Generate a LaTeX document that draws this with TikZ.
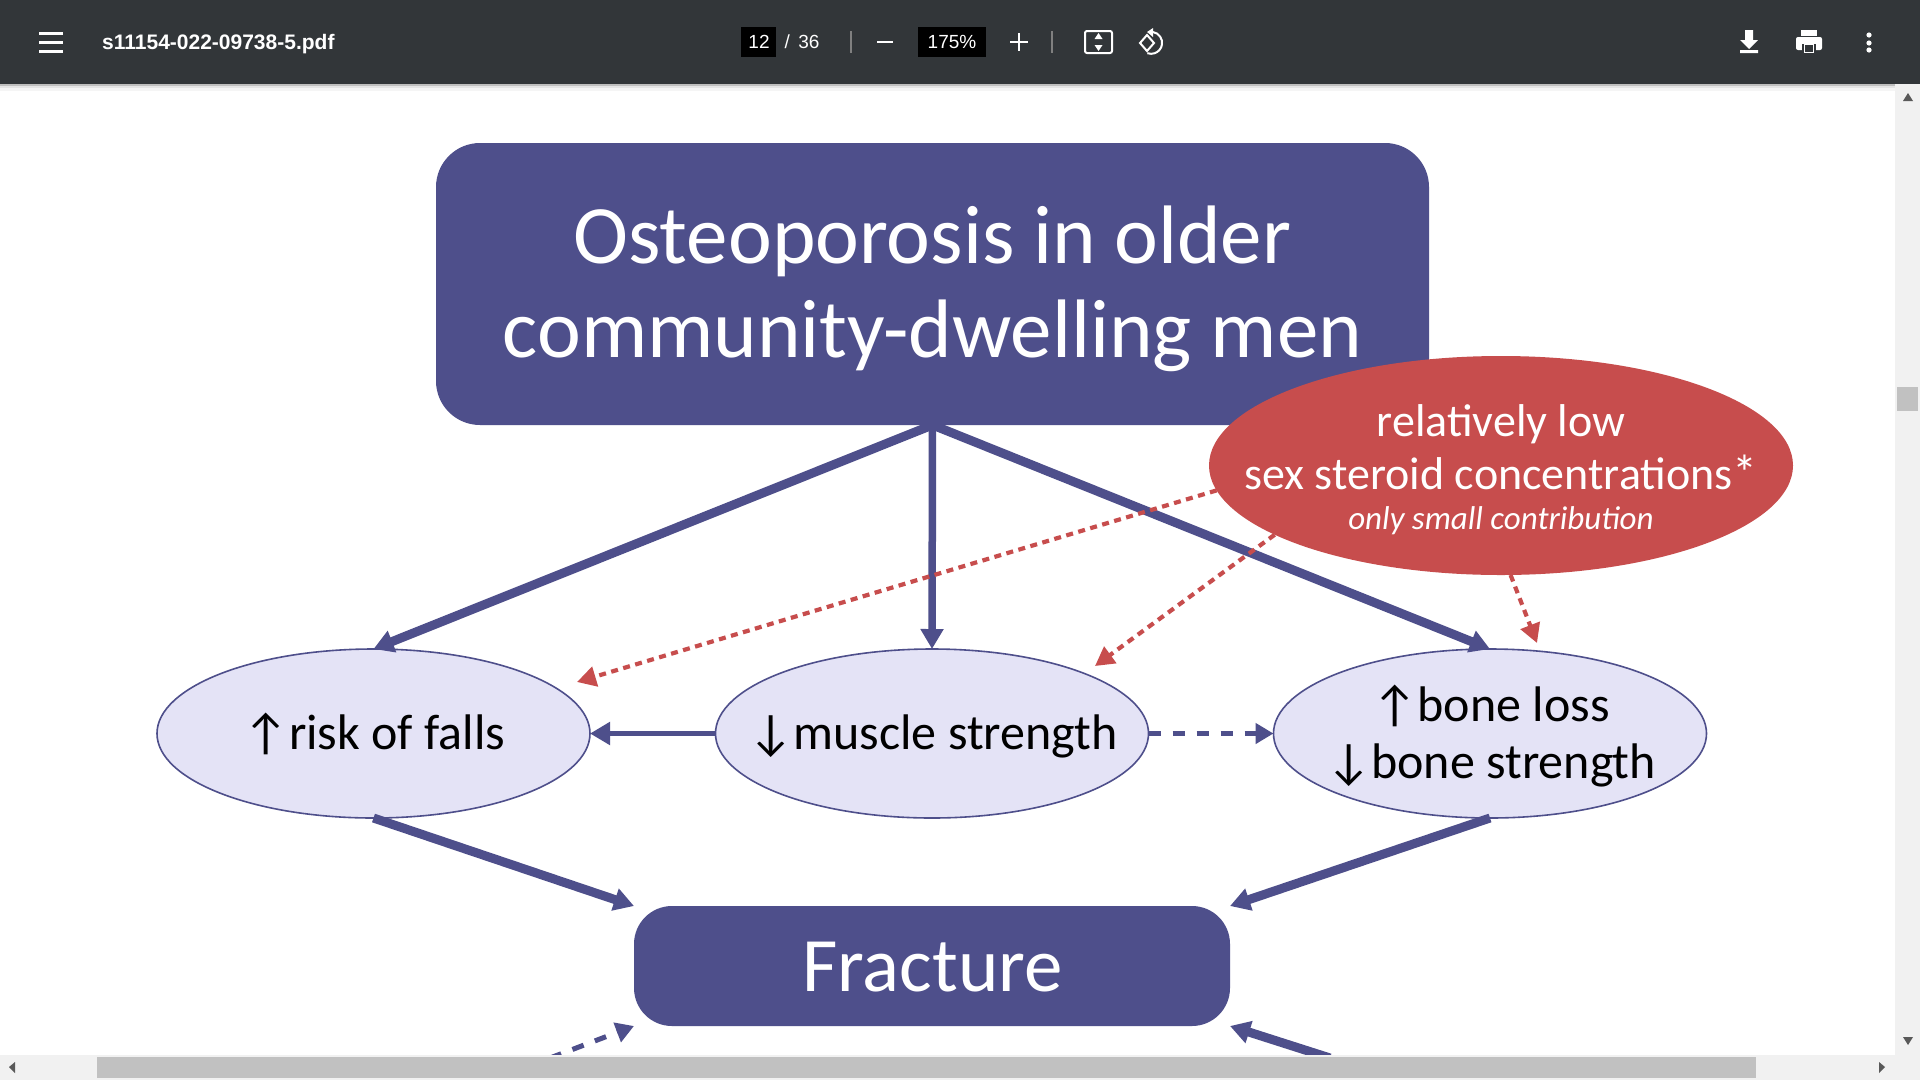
\documentclass[tikz,border=0pt]{standalone}
\usepackage{fontspec}
\usetikzlibrary{shapes.geometric,arrows.meta,calc}
\setmainfont{Carlito}
\newfontfamily\uifont{Liberation Sans}
\definecolor{barcol}{HTML}{323639}
\definecolor{navy}{HTML}{4E4F8B}
\definecolor{pale}{HTML}{E4E3F6}
\definecolor{redfill}{HTML}{C74D4D}
\definecolor{trackcol}{HTML}{F1F1F1}
\definecolor{thumbcol}{HTML}{C1C1C1}
\newcommand\ctext[2][0pt]{\smash{\makebox[0pt][c]{\raisebox{#1}{\begin{tabular}{@{}c@{}}#2\end{tabular}}}}}
\newcommand\fs[2]{\fontsize{#1}{#2}\selectfont}
\tikzset{
  x=1pt,y=-1pt,
  bigbox/.style={draw=none,fill=navy,inner sep=0pt,outer sep=0pt,text=white,anchor=center},
  oval/.style={ellipse,draw=navy,line width=1.6pt,fill=pale,inner sep=0pt,outer sep=0pt,minimum width=433pt,minimum height=169pt,text=black},
  solidarrow/.style={draw=navy,line width=#1,-{Triangle[length=20pt,width=22pt,fill=navy]}},
  solidarrow/.default=9pt,
  dasharrow/.style={draw=navy,line width=5pt,dash pattern=on 12pt off 12pt,-{Triangle[length=18pt,width=20pt,fill=navy]}},
  redarrow/.style={draw=redfill,line width=4.2pt,dash pattern=on 7pt off 5.5pt,-{Triangle[length=19pt,width=20pt,fill=redfill]}},
  uitext/.style={text=white,font=\uifont\fs{19}{22},inner sep=0pt},
  uiline/.style={draw=white,line width=2pt},
}
\begin{document}
\begin{tikzpicture}
\useasboundingbox (0,0) rectangle (1920,1080);
\fill[white] (0,0) rectangle (1920,1080);
% boxes
\node[bigbox,minimum width=993pt,minimum height=282pt,rounded corners=44pt] (main) at (932.5,284) {\fs{83}{94}\ctext[-13.5pt]{Osteoporosis in older\\community-dwelling men}};
\node[bigbox,minimum width=596pt,minimum height=120pt,rounded corners=38pt] (frac) at (932,966) {\fs{77}{80}\hspace{1pt}\ctext[-16pt]{Fracture}};
% ovals
\node[oval] (risk) at (373.5,733.5) {\fs{50}{57}\hspace{2pt}\ctext[-11pt]{↑risk of falls}};
\node[oval] (muscle) at (932,733.5) {\fs{50}{57}\hspace{2pt}\ctext[-11pt]{↓muscle strength}};
\node[oval] (bone) at (1490,733.5) {\fs{50}{57}\hspace{2pt}\ctext[-11pt]{↑bone loss\\↓bone strength}};
% solid arrows
\draw[solidarrow] (main.south) -- (risk.north);
\draw[solidarrow=7.5pt] (main.south) -- (muscle.north);
\draw[solidarrow] (main.south) -- (bone.north);
\draw[solidarrow=5pt] (muscle.west) -- (risk.east);
\draw[dasharrow] (muscle.east) -- (bone.west);
\draw[solidarrow] (risk.south) -- (frac.north west);
\draw[solidarrow] (bone.south) -- (frac.north east);
\coordinate (lowL) at (550,1058);
\coordinate (lowR) at (1330,1058);
\draw[dasharrow] (lowL) -- (frac.south west);
\draw[solidarrow] (lowR) -- (frac.south east);
% red oval
\coordinate (rA) at (577,682);
\coordinate (rB) at (1095,666);
\coordinate (rC) at (1537,643);
\node[ellipse,fill=redfill,inner sep=0pt,outer sep=0pt,minimum width=584pt,minimum height=219pt,text=white] (red) at (1501,465.5) {\fs{46}{53}\ctext[-13pt]{relatively low\\sex steroid concentrations\raisebox{-1.5pt}{\fs{50}{50}*}\\[-12.5pt]\fs{33}{40}\itshape only small contribution}};
\draw[redarrow] (red.185) -- (rA);
\draw[redarrow] (red.197) -- (rB);
\draw[redarrow] (red.275) -- (rC);
% toolbar
\fill[black!25] (0,84) rectangle (1920,86);
\fill[black!10] (0,86) rectangle (1920,88);
\fill[black!4] (0,88) rectangle (1920,91);
\fill[barcol] (0,0) rectangle (1920,84);
\foreach \yy in {33,42,51} \draw[uiline,line width=3pt] (39,\yy) -- (63,\yy);
\node[uitext,font=\uifont\bfseries\fs{21}{24},anchor=west] (fname) at (102,44) {s11154-022-09738-5.pdf};
\fill[black] (741,27) rectangle (776,57);
\node[uitext] (pg) at (759,42) {12};
\node[uitext] (pgt) at (802,42) {/ \,36};
\draw[draw=gray,line width=1.5pt] (851,31) -- (851,53);
\draw[uiline,line width=2.5pt] (877,42) -- (893,42);
\fill[black] (918,27) rectangle (986,57);
\node[uitext] (zm) at (952,42) {175\%};
\draw[uiline] (1010,42) -- (1028,42) (1019,33) -- (1019,51);
\draw[draw=gray,line width=1.5pt] (1052,31) -- (1052,53);
\draw[uiline,rounded corners=2pt] (1085,31) rectangle (1112,53);
\fill[white] (1098.5,33) -- (1094.5,39) -- (1102.5,39) -- cycle (1098.5,51) -- (1094.5,45) -- (1102.5,45) -- cycle;
\draw[uiline,line width=2pt] (1147,35) -- (1154,43) -- (1147,51) -- (1140,43) -- cycle;
\draw[uiline,line width=2pt] (1153,32) arc[start angle=80,end angle=-110,radius=11pt];
\fill[white] (1153,28) -- (1153,37) -- (1147,32) -- cycle;
\fill[white] (1745,30) rectangle (1753,40) (1740,40) -- (1758,40) -- (1749,49) -- cycle (1740,50) rectangle (1758,53);
\fill[white,rounded corners=2pt] (1796,37) rectangle (1822,50);
\fill[white] (1801,30) rectangle (1817,36);
\fill[barcol] (1802,44) rectangle (1816,54);
\fill[white] (1804,44) rectangle (1814,53);
\fill[barcol] (1805,45) rectangle (1813,52);
\foreach \yy in {35,43,50} \fill[white] (1869,\yy) circle (2.6pt);
% scrollbars
\fill[trackcol] (1895,84) rectangle (1920,1055);
\fill[thumbcol] (1897,387) rectangle (1918,411);
\fill[trackcol] (0,1055) rectangle (1920,1080);
\fill[thumbcol] (97,1057) rectangle (1756,1078);
\fill[black!65] (1908,93) -- (1903,101) -- (1913,101) -- cycle;
\fill[black!65] (1908,1045) -- (1903,1037) -- (1913,1037) -- cycle;
\fill[black!65] (9,1067) -- (15,1062) -- (15,1073) -- cycle;
\fill[black!65] (1885,1067) -- (1879,1062) -- (1879,1073) -- cycle;
\end{tikzpicture}
\end{document}
